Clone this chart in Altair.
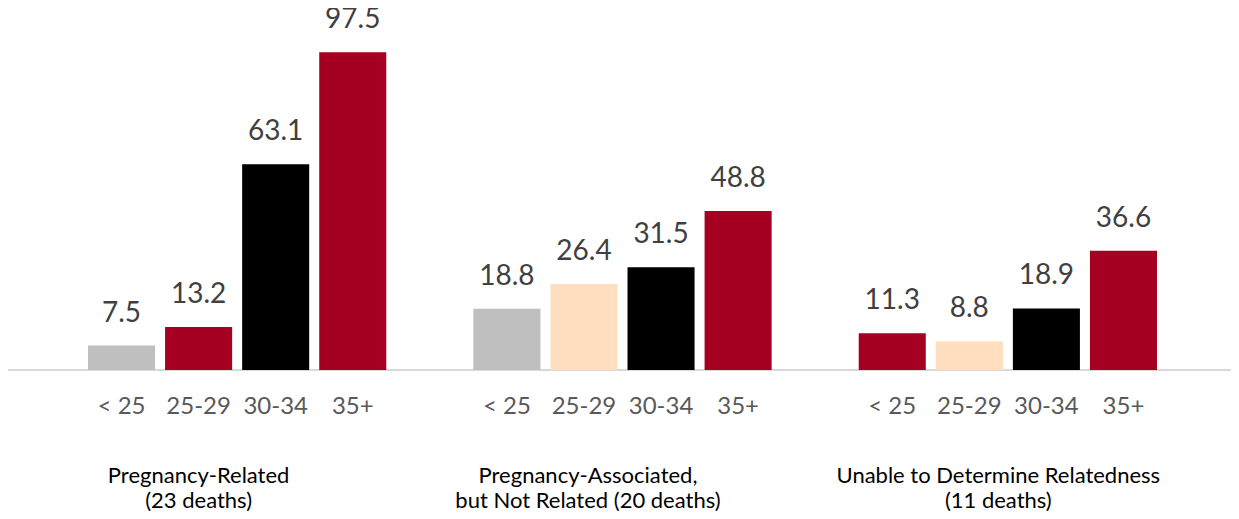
import altair as alt
import pandas as pd

groups = ["Pregnancy-Related", "Pregnancy-Associated, but Not Related", "Unable to Determine Relatedness"]
group_lines = [
    ["Pregnancy-Related", "(23 deaths)"],
    ["Pregnancy-Associated,", "but Not Related (20 deaths)"],
    ["Unable to Determine Relatedness", "(11 deaths)"],
]
ages = ["< 25", "25-29", "30-34", "35+"]
rates = [
    [7.5, 13.2, 63.1, 97.5],
    [18.8, 26.4, 31.5, 48.8],
    [11.3, 8.8, 18.9, 36.6],
]
GRAY, RED, BLACK, PEACH = "#BFBFBF", "#A50021", "#000000", "#FFDFC0"
colors = [
    [GRAY, RED, BLACK, RED],
    [GRAY, PEACH, BLACK, RED],
    [RED, PEACH, BLACK, RED],
]
label_dx = [0, 4, 29]

rows = []
for gi, g in enumerate(groups):
    for ai, a in enumerate(ages):
        rows.append(dict(group=g, age=a, key=f"{gi}|{a}", rate=rates[gi][ai], color=colors[gi][ai]))
df = pd.DataFrame(rows)

domain = []
for gi in range(len(groups)):
    domain += [f"{gi}|{a}" for a in ages]
    if gi < len(groups) - 1:
        domain.append(f"gap{gi}")

FONT = "Lato"
W, H = 1079, 326

xenc = alt.X("key:N", scale=alt.Scale(domain=domain, paddingInner=0.13, paddingOuter=0.065), axis=None)
yscale = alt.Scale(domain=[0, 100], nice=False)
yenc = alt.Y("rate:Q", scale=yscale, axis=None)

base = alt.Chart(df)

rule = alt.Chart(pd.DataFrame({"rate": [0]})).mark_rule(color="#D9D9D9", strokeWidth=2).encode(
    y=alt.Y("rate:Q", scale=yscale, axis=None),
    x=alt.value(-75),
    x2=alt.value(1148),
)

bars = base.mark_bar().encode(x=xenc, y=yenc, color=alt.Color("color:N", scale=None))

values = base.mark_text(dy=-32, fontSize=28, font=FONT, color="#404040", baseline="middle").encode(
    x=xenc, y=yenc, text=alt.Text("rate:Q", format=".1f")
)

ticks = base.mark_text(fontSize=24, font=FONT, color="#595959", baseline="middle").encode(
    x=xenc, y=alt.value(363), text="age:N"
)

layers = [rule, bars, values, ticks]
for gi in range(len(groups)):
    gdf = pd.DataFrame({"key": [f"{gi}|{ages[1]}"], "lines": [group_lines[gi]]})
    layers.append(
        alt.Chart(gdf).mark_text(
            fontSize=22, font=FONT, color="#000000", baseline="alphabetic", lineHeight=25, dx=label_dx[gi]
        ).encode(x=xenc, y=alt.value(439), text="lines")
    )

chart = alt.layer(*layers).properties(
    width=W,
    height=H,
    autosize=alt.AutoSizeParams(type="none"),
    padding={"left": 75, "top": 36, "right": 69, "bottom": 141},
).configure_view(stroke=None)

chart.save("out.html", embed_options={"renderer": "svg", "actions": False})
